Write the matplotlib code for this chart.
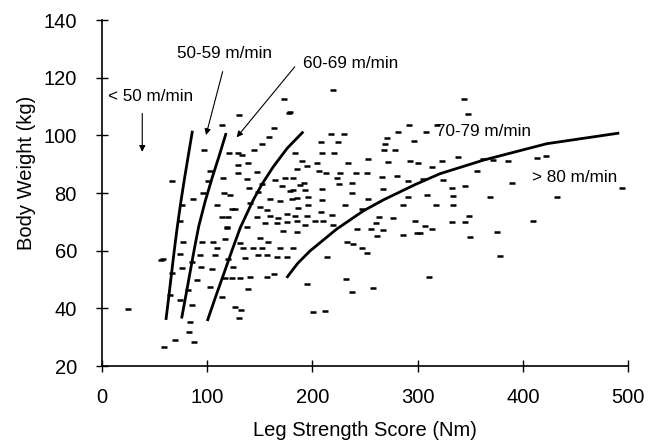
import numpy as np
import matplotlib
matplotlib.use('Agg')
import matplotlib.pyplot as plt

plt.rcParams['font.family'] = ['Liberation Sans', 'DejaVu Sans']

# individual subjects (leg strength Nm, body weight kg)
strength = [130.5, 178, 113.8, 163.5, 97, 159, 151.8, 120.7, 129, 132.8, 144.8, 183.5, 129.4, 138.5,
            102.7, 129.4, 147, 185, 174, 181.8, 66.3, 100.4, 115.3, 137.5, 164.4, 151.8, 170.8, 140,
            178.7, 116, 96.3, 121.7, 148.6, 159.7, 169.2, 86.2, 140.7, 185, 109, 150.2, 123.3, 126.4,
            156.6, 75.8, 113.8, 120, 147, 159.7, 167.6, 175.6, 183.5, 74.1, 118.4, 137.5, 154.9, 166.1,
            175.6,
            291.8, 318.7, 281.7, 308, 217.4, 230, 270.6, 208.2, 224.6, 296.9, 269, 268.3, 278.5, 209.4,
            220.5, 253.2, 272.2, 292.8, 300.7, 189.8, 204.1, 194.6, 234.1, 313.3, 206.6, 212.9, 226.2,
            241.4, 251.6, 265.9, 280.1, 223.1, 225.3, 237.4, 192, 188.2, 291.2, 181.8, 193, 208.8, 267.4,
            308.6, 237.4, 180.3, 196.1, 209.4, 253.2, 291.2, 231, 196.1, 186.6, 207.9, 246.9, 286.4,
            317.1, 194.6, 218.3, 263.6, 276.9, 185.1, 202.5, 210.4, 193, 219.9, 297.5, 260.5, 307, 242.1,
            255.4,
            119.1, 172.3, 185, 76.7, 94.8, 105.8, 116.9, 131.2, 150.2, 158.1, 109, 134.3, 143.8, 151.8,
            169.2, 181.3, 58.3, 74.1, 93.2, 107.4, 135.9, 148.6, 156.6, 166.1, 175.6, 120, 85.3, 93.8,
            104.2, 124.8, 75.8, 156.6, 163.5, 140.7, 131.2, 123.3, 116.9, 66.3, 90, 102.7, 82, 139.2,
            64.6, 113.8, 74.1, 85.3, 126.4, 131.8, 130.2, 83.7, 83, 69.4, 87.5,
            25, 58.9, 55.8, 194.6, 200.3, 212, 232, 238, 258, 213.6, 232.6, 238.3, 246.9, 251.6, 267.4,
            261.1, 286.4, 299.1,
            344.1, 348.2, 322.9, 338.7, 362.5, 371.9, 386.2, 413.2, 422, 305.4, 323.8, 332.4, 345, 356.2,
            389.6, 334, 368.8, 432.8, 494, 333.3, 313.4, 332.4, 345, 349.2, 409.3, 302.3, 349.8, 375.2,
            378.3, 311.1,
            219.9, 173.3, 179]
weight = [107.2, 107.6, 103.6, 102.4, 94.9, 99.3, 97, 94, 94, 93.2, 94.9, 93.8, 89.7, 90.3,
          87.7, 87, 87.4, 88.2, 85.1, 85.1, 84.3, 84.3, 85.1, 84.7, 84.5, 83.1, 82.4, 81.6,
          80.8, 79.9, 79.9, 79.3, 80.4, 77.8, 77.3, 77.8, 76.6, 78.2, 75.8, 75.2, 74.3, 74.3,
          74.1, 75.8, 71.8, 71.8, 71.6, 72, 71.2, 72.7, 72, 70.4, 68.3, 68.3, 69.5, 69.5,
          70,
          103.6, 103.6, 101.3, 101.3, 100.4, 100.4, 99, 97.8, 97.8, 98, 97, 94.9, 94.9, 94,
          94, 91.7, 90.9, 91.2, 90.5, 91.2, 90.5, 89.4, 90.5, 89.1, 87.7, 87, 87,
          87, 87, 85.4, 85.9, 85.1, 83.1, 83.6, 83.6, 82.8, 84.3, 81, 81, 81.3, 81.3,
          79.3, 80.1, 77.8, 78.5, 77.6, 77.8, 78.5, 75.8, 75.8, 74.7, 73.5, 74.3, 75.8,
          75.8, 72, 72.4, 71.8, 71.2, 70.4, 70.4, 70.4, 68.9, 68.9, 70.4, 69.5, 68.5, 67.4,
          67.4,
          68, 66.8, 66.4, 63.1, 63.1, 63.1, 64, 62.5, 64.3, 63.1, 61, 60.8, 60.8, 60.8,
          60.8, 61, 57.1, 58.7, 58.5, 58.5, 57.3, 58.5, 58.5, 57.9, 57.9, 57.1, 56.2, 54.4,
          53.6, 54.4, 53.9, 51, 51.8, 51, 50.4, 50.4, 50.4, 52.1, 49.8, 47.5, 46.3, 46.7,
          44.6, 44, 42.9, 41.1, 40.6, 39.4, 36.5, 35.4, 31.7, 29.2, 28.4,
          39.7, 26.7, 56.8, 48.3, 38.8, 39.1, 50.1, 45.8, 46.9, 57.9, 63.1, 62.2, 60.8, 59.3, 67.2,
          65.1, 65.4, 66,
          112.5, 107.3, 91.1, 92.4, 91.7, 91.4, 91.2, 92, 92.9, 84.7, 84.5, 81.6, 82.4, 87.7,
          83.4, 79, 78.5, 78.7, 81.6, 75.8, 67.4, 70, 70, 72, 70.3, 66, 64.9, 66.6,
          58.1, 51,
          115.7, 112.6, 108.2]

# speed group curves
curveLt50X = [60.8, 63.5, 66.1, 68.7, 71.5, 75.0, 78.7, 82.3, 86.0]
curveLt50Y = [36.0, 44.0, 52.0, 60.0, 68.0, 77.0, 85.6, 93.5, 101.6]
curve50X = [75.7, 80.0, 84.0, 88.0, 92.0, 98.0, 105.0, 111.5, 118.0]
curve50Y = [36.5, 45.0, 53.0, 61.0, 68.5, 77.0, 85.6, 93.0, 100.8]
curve60X = [100.1, 108.0, 115.8, 123.5, 131.5, 143.8, 152.0, 162.8, 176.0, 191.4]
curve60Y = [35.6, 44.0, 52.0, 60.0, 68.0, 77.6, 83.0, 89.1, 95.5, 101.3]
curve70X = [175.5, 186.0, 197.7, 223.1, 248.4, 267.4, 297.5, 321.3, 362.5, 422.7, 491.7]
curve70Y = [50.6, 55.6, 59.9, 67.5, 73.8, 77.6, 82.9, 86.7, 91.4, 97.1, 100.8]

groupLabels = ['< 50 m/min', '50-59 m/min', '60-69 m/min', '70-79 m/min', '> 80 m/min']
labelX = [5.7, 71, 191.4, 317.5, 408.5]
labelY = [113.4, 128.4, 125.0, 101.3, 85.4]

fig = plt.figure(figsize=(6.6, 4.41), dpi=100)
ax = fig.add_axes([0.1545, 0.17, 0.797, 0.7846])

ax.plot(strength, weight, linestyle='none', marker='_', markersize=5, mew=1.8, color='black')

for cx, cy in [(curveLt50X, curveLt50Y), (curve50X, curve50Y), (curve60X, curve60Y), (curve70X, curve70Y)]:
    ax.plot(cx, cy, color='black', linewidth=2.0, solid_capstyle='butt', solid_joinstyle='round')

for i in range(len(groupLabels)):
    ax.text(labelX[i], labelY[i], groupLabels[i], fontsize=12.3, ha='left', va='center')

arrowProps = dict(arrowstyle='-|>', color='black', lw=0.8, mutation_scale=9, shrinkA=0, shrinkB=0)
ax.annotate('', xy=(38.3, 94.3), xytext=(38.3, 107.6), arrowprops=arrowProps)
ax.annotate('', xy=(98.9, 100.1), xytext=(114.7, 122.1), arrowprops=arrowProps)
ax.annotate('', xy=(128, 99.3), xytext=(183.3, 123.8), arrowprops=arrowProps)

ax.set_xlim(0, 500)
ax.set_ylim(20, 140)
ax.set_xticks(np.arange(0, 501, 100))
ax.set_yticks(np.arange(20, 141, 20))

ax.spines['top'].set_visible(False)
ax.spines['right'].set_visible(False)
ax.spines['left'].set_linewidth(1.2)
ax.spines['bottom'].set_linewidth(1.2)

ax.tick_params(axis='x', direction='inout', length=8, width=1, pad=12, labelsize=14.5)
ax.tick_params(axis='y', direction='inout', length=8, width=1, pad=14, labelsize=14.5)

ax.set_xlabel('Leg Strength Score (Nm)', fontsize=14.5, va='center')
ax.set_ylabel('Body Weight (kg)', fontsize=14.5, va='center')
ax.xaxis.set_label_coords(0.5, -0.186)
ax.yaxis.set_label_coords(-0.144, 0.558)

fig.savefig('out.png', dpi=100)
